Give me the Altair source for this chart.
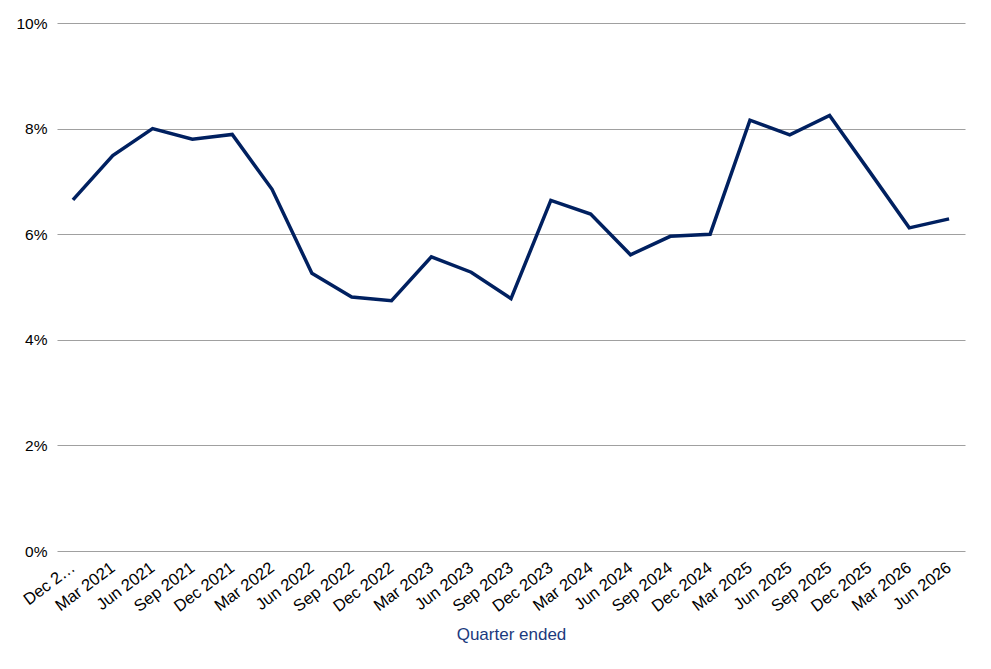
import altair as alt
import pandas as pd

# Quarter-end labels and rate values (as fractions)
quarters = [
    "Dec 2020", "Mar 2021", "Jun 2021", "Sep 2021", "Dec 2021",
    "Mar 2022", "Jun 2022", "Sep 2022", "Dec 2022",
    "Mar 2023", "Jun 2023", "Sep 2023", "Dec 2023",
    "Mar 2024", "Jun 2024", "Sep 2024", "Dec 2024",
    "Mar 2025", "Jun 2025", "Sep 2025", "Dec 2025",
    "Mar 2026", "Jun 2026",
]
rates = [
    0.0665, 0.0749, 0.0800, 0.0780, 0.0789,
    0.0685, 0.0526, 0.0481, 0.0474,
    0.0557, 0.0528, 0.0478, 0.0664,
    0.0638, 0.0561, 0.0596, 0.0600,
    0.0816, 0.0788, 0.0825, 0.0719,
    0.0612, 0.0629,
]
y_ticks = [0, 0.02, 0.04, 0.06, 0.08, 0.10]

df = pd.DataFrame({"quarter": quarters, "rate": rates})

FONT = "Liberation Sans"

chart = alt.Chart(df).mark_line(
    color="#002060", strokeWidth=3.5, strokeJoin="miter"
).encode(
    x=alt.X(
        "quarter:N",
        sort=quarters,
        scale=alt.Scale(type="point", padding=0.4),
        axis=alt.Axis(
            title="Quarter ended",
            titleFont=FONT,
            titleFontSize=17,
            titleFontWeight="normal",
            titleColor="#1b3a7e",
            titleBaseline="alphabetic",
            titleY=88,
            labelAngle=-37,
            labelAlign="right",
            labelBaseline="top",
            labelFont=FONT,
            labelFontSize=16.5,
            labelColor="#000000",
            labelPadding=8,
            labelOffset=-5,
            labelExpr="datum.index == 0 ? 'Dec 2\u2026' : datum.label",
            labelOverlap=False,
            ticks=False,
            domain=False,
            grid=False,
        ),
    ),
    y=alt.Y(
        "rate:Q",
        scale=alt.Scale(domain=[0, 0.10]),
        axis=alt.Axis(
            title=None,
            values=y_ticks,
            format=".0%",
            labelFont=FONT,
            labelFontSize=15.5,
            labelColor="#000000",
            labelPadding=10,
            ticks=False,
            domain=False,
            grid=True,
            gridColor="#a0a0a0",
            gridWidth=1.2,
        ),
    ),
).properties(
    width=908,
    height=528,
    autosize=alt.AutoSizeParams(type="none"),
    padding={"left": 49, "top": 15, "right": 18, "bottom": 110},
).configure_view(stroke=None)

chart.save("out.html", embed_options={"renderer": "svg", "actions": False})
